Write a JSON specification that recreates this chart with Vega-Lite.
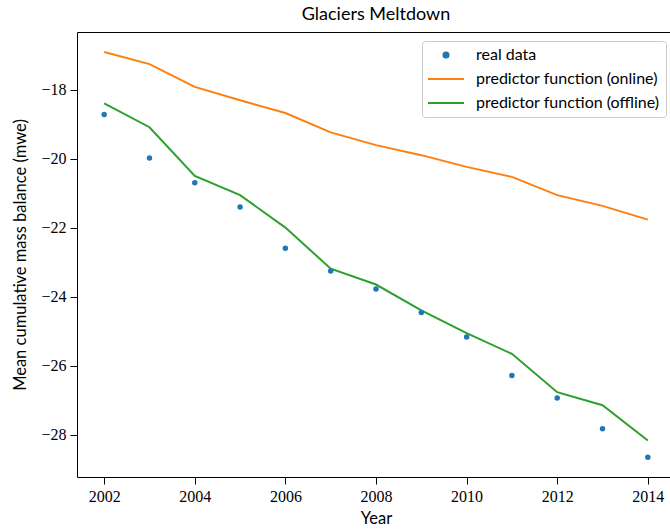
{
  "$schema": "https://vega.github.io/schema/vega-lite/v6.json",
  "width": 598,
  "height": 445,
  "autosize": {"type": "none"},
  "padding": {"left": 77, "top": 32, "right": 0, "bottom": 52},
  "background": "white",
  "title": {"text": "Glaciers Meltdown", "font": "Lato", "fontSize": 18, "fontWeight": "normal", "color": "#000", "offset": 8, "anchor": "middle"},
  "config": {
    "view": {"stroke": "#000", "strokeWidth": 1},
    "axis": {
      "grid": false,
      "domain": false,
      "tickColor": "#000",
      "tickSize": 7,
      "tickWidth": 1,
      "labelFont": "Liberation Serif",
      "labelFontSize": 16,
      "labelColor": "#000",
      "labelPadding": 4,
      "titleFont": "Lato",
      "titleFontSize": 16.5,
      "titleFontWeight": "normal",
      "titleColor": "#000"
    }
  },
  "data": {
    "values": [
      {"year": 2002, "series": "real data", "value": -18.72},
      {"year": 2003, "series": "real data", "value": -19.98},
      {"year": 2004, "series": "real data", "value": -20.70},
      {"year": 2005, "series": "real data", "value": -21.40},
      {"year": 2006, "series": "real data", "value": -22.60},
      {"year": 2007, "series": "real data", "value": -23.26},
      {"year": 2008, "series": "real data", "value": -23.78},
      {"year": 2009, "series": "real data", "value": -24.46},
      {"year": 2010, "series": "real data", "value": -25.17},
      {"year": 2011, "series": "real data", "value": -26.29},
      {"year": 2012, "series": "real data", "value": -26.94},
      {"year": 2013, "series": "real data", "value": -27.83},
      {"year": 2014, "series": "real data", "value": -28.66},
      {"year": 2002, "series": "predictor function (online)", "value": -16.91},
      {"year": 2003, "series": "predictor function (online)", "value": -17.26},
      {"year": 2004, "series": "predictor function (online)", "value": -17.92},
      {"year": 2005, "series": "predictor function (online)", "value": -18.31},
      {"year": 2006, "series": "predictor function (online)", "value": -18.68},
      {"year": 2007, "series": "predictor function (online)", "value": -19.24},
      {"year": 2008, "series": "predictor function (online)", "value": -19.61},
      {"year": 2009, "series": "predictor function (online)", "value": -19.90},
      {"year": 2010, "series": "predictor function (online)", "value": -20.24},
      {"year": 2011, "series": "predictor function (online)", "value": -20.53},
      {"year": 2012, "series": "predictor function (online)", "value": -21.06},
      {"year": 2013, "series": "predictor function (online)", "value": -21.37},
      {"year": 2014, "series": "predictor function (online)", "value": -21.77},
      {"year": 2002, "series": "predictor function (offline)", "value": -18.40},
      {"year": 2003, "series": "predictor function (offline)", "value": -19.09},
      {"year": 2004, "series": "predictor function (offline)", "value": -20.50},
      {"year": 2005, "series": "predictor function (offline)", "value": -21.06},
      {"year": 2006, "series": "predictor function (offline)", "value": -22.00},
      {"year": 2007, "series": "predictor function (offline)", "value": -23.19},
      {"year": 2008, "series": "predictor function (offline)", "value": -23.65},
      {"year": 2009, "series": "predictor function (offline)", "value": -24.40},
      {"year": 2010, "series": "predictor function (offline)", "value": -25.06},
      {"year": 2011, "series": "predictor function (offline)", "value": -25.66},
      {"year": 2012, "series": "predictor function (offline)", "value": -26.77},
      {"year": 2013, "series": "predictor function (offline)", "value": -27.15},
      {"year": 2014, "series": "predictor function (offline)", "value": -28.17}
    ]
  },
  "encoding": {
    "x": {
      "field": "year", "type": "quantitative",
      "scale": {"domain": [2001.4, 2014.6], "nice": false, "zero": false},
      "axis": {"title": "Year", "values": [2002, 2004, 2006, 2008, 2010, 2012, 2014], "format": "d", "titlePadding": 6}
    },
    "y": {
      "field": "value", "type": "quantitative",
      "scale": {"domain": [-29.23, -16.33], "nice": false, "zero": false},
      "axis": {"title": "Mean cumulative mass balance (mwe)", "values": [-18, -20, -22, -24, -26, -28], "format": "d", "titlePadding": 12}
    },
    "color": {
      "field": "series", "type": "nominal",
      "scale": {
        "domain": ["real data", "predictor function (online)", "predictor function (offline)"],
        "range": ["#1f77b4", "#ff7f0e", "#2ca02c"]
      },
      "legend": {
        "title": null,
        "orient": "none",
        "legendX": 345,
        "legendY": 9,
        "padding": 6,
        "fillColor": "white",
        "strokeColor": "#cccccc",
        "cornerRadius": 3,
        "symbolType": "stroke",
        "symbolSize": 100,
        "symbolStrokeWidth": 2,
        "symbolOffset": 10,
        "labelFont": "Lato",
        "labelFontSize": 16,
        "labelColor": "#000",
        "labelOffset": 22,
        "rowPadding": 8,
        "labelLimit": 400,
        "encode": {
          "symbols": {
            "update": {
              "shape": {"signal": "datum.label === 'real data' ? 'circle' : 'M-3.6,0H3.6'"},
              "size": {"signal": "datum.label === 'real data' ? 26 : 100"},
              "fill": {"signal": "datum.label === 'real data' ? '#1f77b4' : 'transparent'"},
              "stroke": {"signal": "datum.label === 'real data' ? 'transparent' : (datum.label === 'predictor function (online)' ? '#ff7f0e' : '#2ca02c')"},
              "strokeWidth": {"value": 2},
              "opacity": {"value": 1}
            }
          }
        }
      }
    }
  },
  "layer": [
    {
      "transform": [{"filter": "datum.series !== 'real data'"}],
      "mark": {"type": "line", "strokeWidth": 2},
      "encoding": {"detail": {"field": "series"}}
    },
    {
      "transform": [{"filter": "datum.series === 'real data'"}],
      "mark": {"type": "point", "filled": true, "size": 30, "opacity": 1}
    }
  ]
}
